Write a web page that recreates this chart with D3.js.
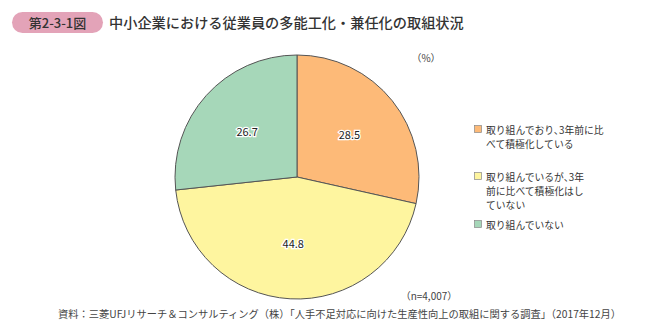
<!DOCTYPE html>
<html><head><meta charset="utf-8">
<script src="https://cdn.jsdelivr.net/npm/d3@7/dist/d3.min.js"></script>
<style>body{margin:0;background:#fff;}svg{display:block;font-family:"Noto Sans CJK JP","Noto Sans",sans-serif;}</style>
</head><body><div id="c"></div>
<script>
const categories = ["取り組んでおり、3年前に比べて積極化している", "取り組んでいるが、3年前に比べて積極化はしていない", "取り組んでいない"];
const values = [28.5, 44.8, 26.7];
const colors = ["#FDBA78", "#FEF59F", "#A6D7B9"];
const legendLines = [["取り組んでおり､3年前に比", "べて積極化している"], ["取り組んでいるが､3年", "前に比べて積極化はし", "ていない"], ["取り組んでいない"]];
const titleBadge = "第2-3-1図";
const titleText = "中小企業における従業員の多能工化・兼任化の取組状況";
const unitText = "（%）";
const nText = "（n=4,007）";
const sourceText = "資料：三菱UFJリサーチ＆コンサルティング（株）「人手不足対応に向けた生産性向上の取組に関する調査」（2017年12月）";

const W = 650, H = 332;
const svg = d3.select("#c").append("svg").attr("width", W).attr("height", H);

// title
svg.append("rect").attr("x", 12).attr("y", 12).attr("width", 91).attr("height", 21).attr("rx", 10.5).attr("fill", "#E3A3B8");
svg.append("text").attr("x", 57.5).attr("y", 27.5).attr("text-anchor", "middle").attr("font-size", 13).attr("font-weight", 500).attr("fill", "#333").text(titleBadge);
svg.append("text").attr("x", 109).attr("y", 27.5).attr("font-size", 14.2).attr("font-weight", 500).attr("fill", "#333").text(titleText);

// pie
const cx = 297, cy = 177, r = 122;
const pie = d3.pie().sort(null).value(d => d);
const arcs = pie(values);
const arc = d3.arc().innerRadius(0).outerRadius(r);
const labelArc = d3.arc().innerRadius(r * 0.55).outerRadius(r * 0.55);
const g = svg.append("g").attr("transform", `translate(${cx},${cy})`);
g.selectAll("path").data(arcs).join("path")
  .attr("d", arc).attr("fill", (d, i) => colors[i])
  .attr("stroke", "#555").attr("stroke-width", 1);
g.selectAll("text").data(arcs).join("text")
  .attr("transform", d => `translate(${labelArc.centroid(d)})`)
  .attr("text-anchor", "middle").attr("dy", "0.35em")
  .attr("font-size", 11).attr("fill", "#222")
  .attr("stroke", "#fff").attr("stroke-width", 2.5).attr("paint-order", "stroke")
  .text(d => d.data.toFixed(1));

// legend
const legY = [130, 177, 225];
const lg = svg.append("g");
legendLines.forEach((lines, i) => {
  lg.append("rect").attr("x", 474.5).attr("y", legY[i] - 4.5).attr("width", 7).attr("height", 7)
    .attr("fill", colors[i]).attr("stroke", "#888").attr("stroke-width", 0.7);
  const t = lg.append("text").attr("x", 486).attr("y", legY[i] + 3.5)
    .attr("font-size", 9.8).attr("fill", "#333");
  lines.forEach((ln, j) => {
    t.append("tspan").attr("x", 486).attr("dy", j === 0 ? 0 : 14.4).text(ln);
  });
});

svg.append("text").attr("x", 426).attr("y", 62).attr("text-anchor", "middle").attr("font-size", 10).attr("fill", "#444").text(unitText);
svg.append("text").attr("x", 429).attr("y", 300).attr("text-anchor", "middle").attr("font-size", 10).attr("fill", "#444").text(nText);
svg.append("text").attr("x", 621).attr("y", 318).attr("text-anchor", "end").attr("font-size", 10.25).attr("fill", "#444").text(sourceText);
</script></body></html>
